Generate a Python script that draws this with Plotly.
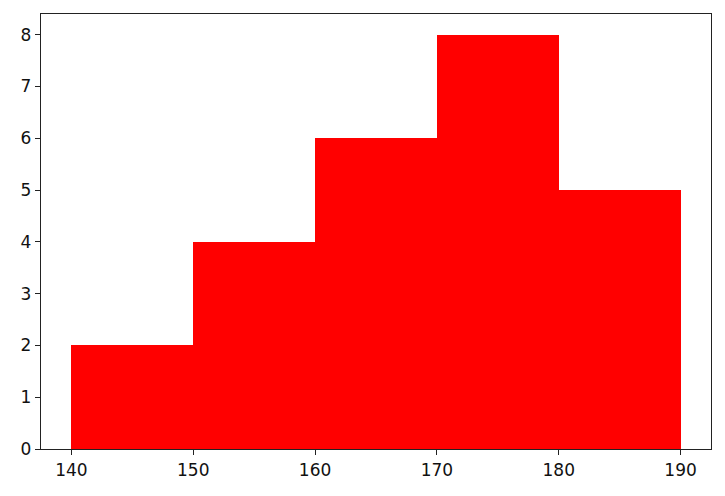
import plotly.graph_objects as go

# histogram bins (heights in cm) and counts
bin_edges = [140, 150, 160, 170, 180, 190]
counts = [2, 4, 6, 8, 5]

centers = [(a + b) / 2 for a, b in zip(bin_edges[:-1], bin_edges[1:])]
widths = [b - a for a, b in zip(bin_edges[:-1], bin_edges[1:])]

fig = go.Figure(go.Bar(x=centers, y=counts, width=widths,
                       marker=dict(color="red", line=dict(width=0))))

axis_style = dict(showline=True, linecolor="#222", linewidth=1.3, mirror=True,
                  ticks="outside", ticklen=5, tickwidth=1.3, tickcolor="#222",
                  showgrid=False, zeroline=False,
                  tickfont=dict(family="DejaVu Sans", size=17, color="#111"))

fig.update_xaxes(range=[137.5, 192.5], tickvals=[140, 150, 160, 170, 180, 190], **axis_style)
fig.update_yaxes(range=[0, 8.4], tickvals=list(range(0, 9)), **axis_style)

# page body adds ~8px offset, so margins are shifted to compensate
fig.update_layout(width=725, height=496,
                  margin=dict(l=33, r=22, t=6, b=55),
                  plot_bgcolor="white", paper_bgcolor="white",
                  bargap=0, showlegend=False)

fig.write_html("out.html")
